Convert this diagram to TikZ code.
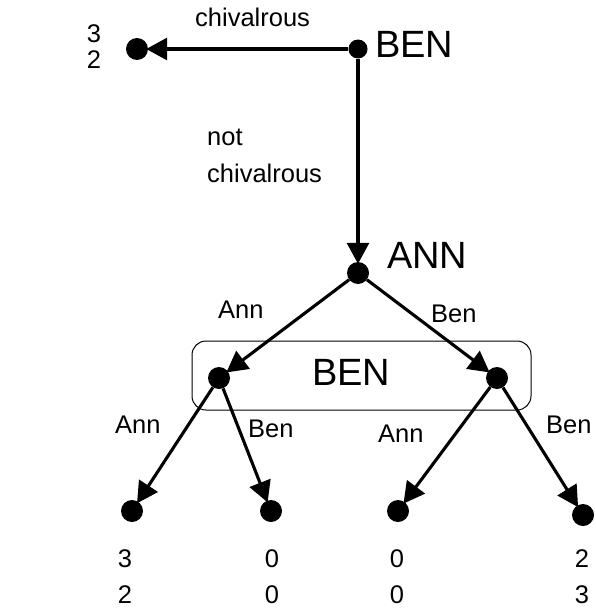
\documentclass[tikz,border=0pt]{standalone}
\usepackage{fontspec}
\setmainfont{Liberation Sans}
\usetikzlibrary{arrows.meta}

\begin{document}
\begin{tikzpicture}[
        x=1pt, y=-1pt,
        font=\fontsize{25.5}{30}\selectfont,
        dot/.style={circle, fill=black, inner sep=0pt, minimum size=22pt},
        big/.style={font=\fontsize{38}{44}\selectfont, anchor=base west, inner sep=0pt},
        lbl/.style={anchor=base west, inner sep=0pt},
        pay/.style={anchor=base, inner sep=0pt},
        arr/.style={-{Triangle[length=21pt, width=22pt]}, line width=3.1pt, shorten >=-2pt}
      ]
        \useasboundingbox (0,0) rectangle (595,610);

        % decision nodes
        \node[dot, minimum size=19pt] (B0) at (358,49) {};
        \node[dot] (T0) at (137,49) {};
        \node[dot] (A)  at (358,273) {};
        \node[dot] (B1) at (219,378) {};
        \node[dot] (B2) at (497,378) {};
        \node[dot] (T1) at (132,511) {};
        \node[dot] (T2) at (271,511) {};
        \node[dot] (T3) at (398,511) {};
        \node[dot] (T4) at (583,515) {};

        % information set
        \draw[line width=1pt, rounded corners=14pt] (192,341) rectangle (531,410);

        \draw[arr] (B0) -- (T0);
        \draw[arr] (B0) -- (A);
        \draw[arr] (A) -- (B1);
        \draw[arr] (A) -- (B2);
        \draw[arr] (B1) -- (T1);
        \draw[arr] (B1) -- (T2);
        \draw[arr] (B2) -- (T3);
        \draw[arr] (B2) -- (T4);

        % players
        \node[big] (pB0) at (375,57) {BEN};
        \node[big] (pA)  at (387,268) {ANN};
        \node[big] (pB)  at (312,385) {BEN};

        % moves
        \node[lbl] (m0)  at (195,27) {chivalrous};
        \node[lbl] (m1a) at (207,145) {not};
        \node[lbl] (m1b) at (207,182) {chivalrous};
        \node[lbl] (m2)  at (218,318) {Ann};
        \node[lbl] (m3)  at (431,322) {Ben};
        \node[lbl] (m4)  at (115,433) {Ann};
        \node[lbl] (m5)  at (248,437) {Ben};
        \node[lbl] (m6)  at (378,442) {Ann};
        \node[lbl] (m7)  at (546,433) {Ben};

        % payoffs
        \node[pay] (p0a) at (94,43) {3};
        \node[pay] (p0b) at (94,68) {2};
        \foreach \x/\a/\b [count=\i] in {125/3/2, 272/0/0, 397/0/0, 582/2/3} {
          \node[pay] (pa\i) at (\x,567) {\a};
          \node[pay] (pb\i) at (\x,603) {\b};
        }
      \end{tikzpicture}
\end{document}
